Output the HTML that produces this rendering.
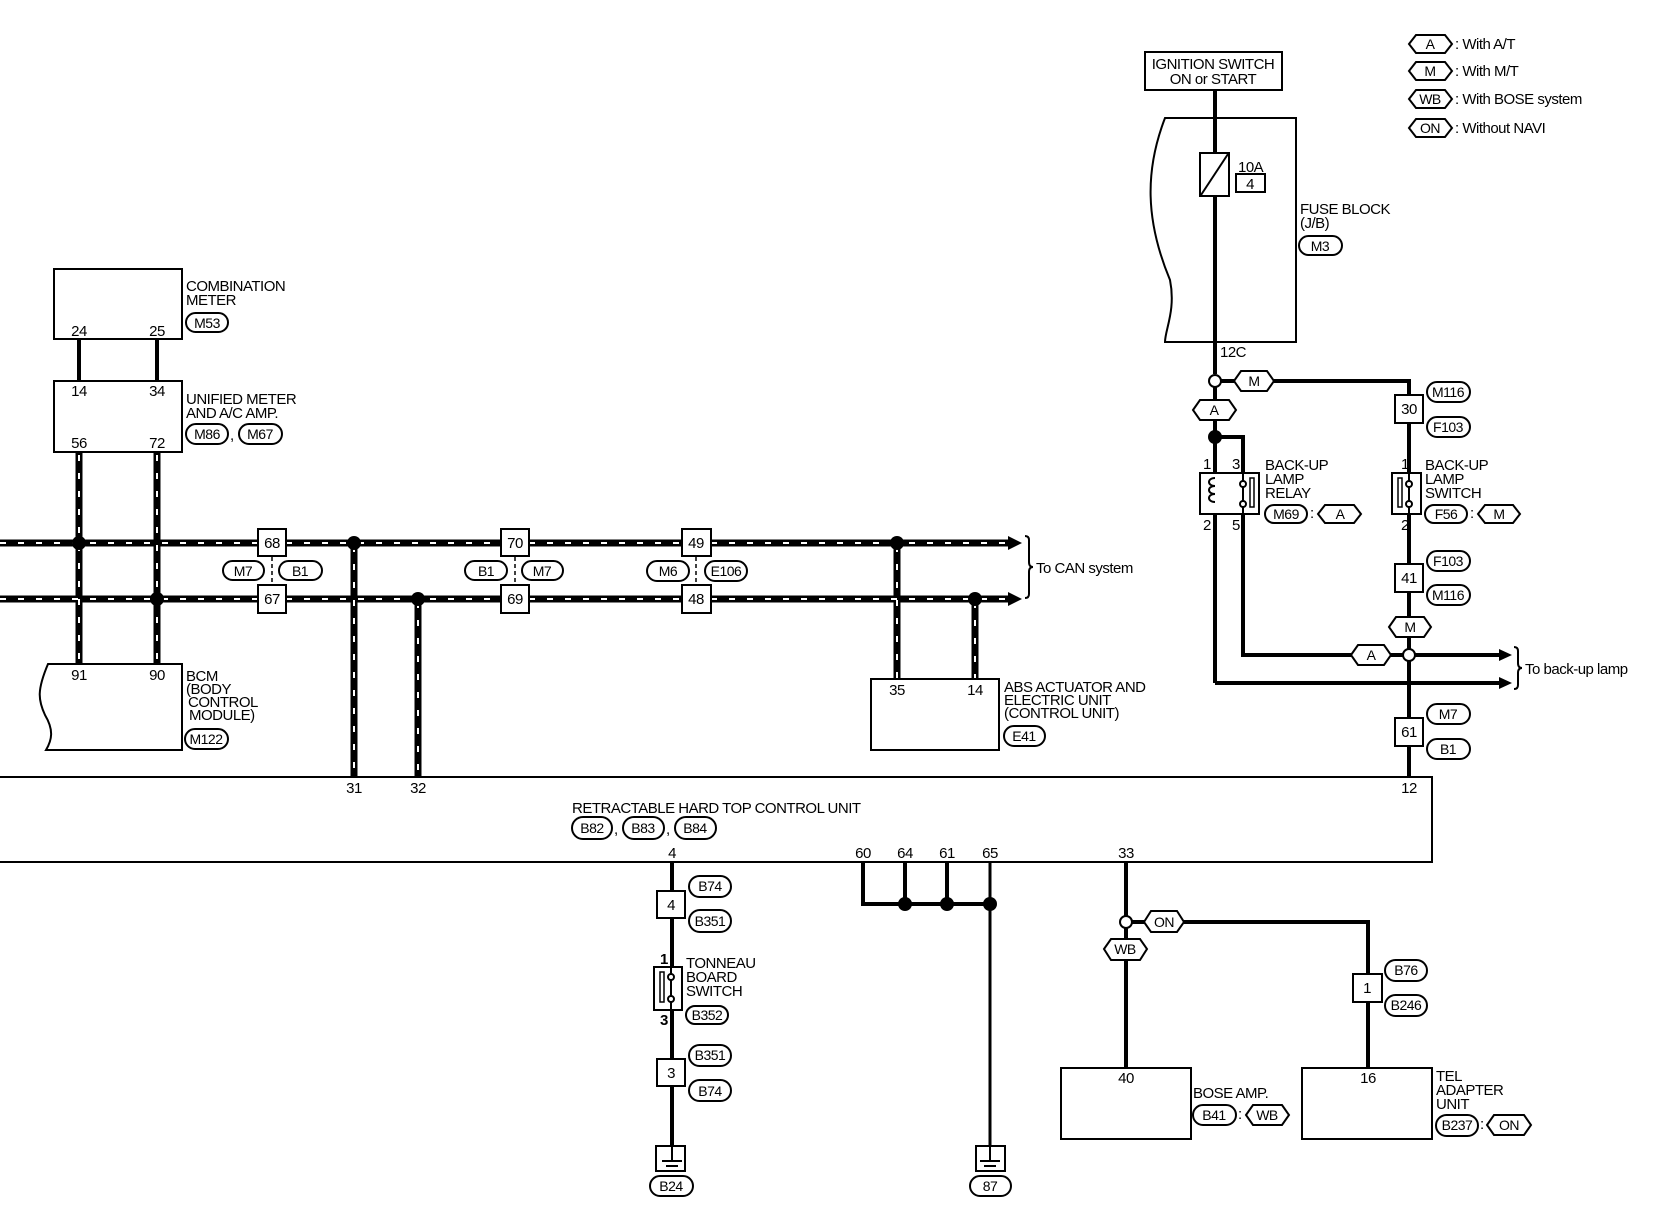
<!DOCTYPE html>
<html><head><meta charset="utf-8"><style>
html,body{margin:0;padding:0;background:#fff}
svg{display:block}
text{font-family:"Liberation Sans",sans-serif;font-size:15px;fill:#000;letter-spacing:-0.5px}
.s{font-size:14px}
.o{fill:#fff;stroke:#000;stroke-width:2}
.b{fill:#fff;stroke:#000;stroke-width:2}
.w{stroke:#000;stroke-width:4;fill:none}
.t{stroke:#000;stroke-width:2;fill:none}
.cb{stroke:#000;stroke-width:7;fill:none}
.cw{stroke:#fff;stroke-width:2;stroke-dasharray:6 12;fill:none}
</style></head><body>
<svg width="1660" height="1216" viewBox="0 0 1660 1216" xmlns="http://www.w3.org/2000/svg">
<!-- Legend -->
<g>
<polygon class="o" points="1409,44 1416,35 1445,35 1452,44 1445,53 1416,53"/><text class="s" x="1430" y="49" text-anchor="middle">A</text><text x="1455" y="49">: With A/T</text>
<polygon class="o" points="1409,71 1416,62 1445,62 1452,71 1445,80 1416,80"/><text class="s" x="1430" y="76" text-anchor="middle">M</text><text x="1455" y="76">: With M/T</text>
<polygon class="o" points="1409,99 1416,90 1445,90 1452,99 1445,108 1416,108"/><text class="s" x="1430" y="104" text-anchor="middle">WB</text><text x="1455" y="104">: With BOSE system</text>
<polygon class="o" points="1409,128 1416,119 1445,119 1452,128 1445,137 1416,137"/><text class="s" x="1430" y="133" text-anchor="middle">ON</text><text x="1455" y="133">: Without NAVI</text>
</g>

<!-- Ignition + fuse block -->
<rect class="b" x="1145" y="52" width="137" height="38"/>
<text x="1213" y="69" text-anchor="middle">IGNITION SWITCH</text>
<text x="1213" y="84" text-anchor="middle">ON or START</text>
<path class="t" d="M1296,118 L1165,118 C1145,170 1145,220 1170,280 C1176,310 1165,330 1165,342 L1296,342 Z"/>
<line class="w" x1="1215" y1="90" x2="1215" y2="374"/>
<rect class="b" x="1200" y="153" width="29" height="43"/>
<line class="t" x1="1201" y1="195" x2="1228" y2="154"/>
<text x="1238" y="172">10A</text>
<rect class="b" x="1236" y="174" width="29" height="18"/><text x="1250" y="189" text-anchor="middle">4</text>
<text x="1300" y="214">FUSE BLOCK</text>
<text x="1300" y="228">(J/B)</text>
<rect class="o" x="1299" y="236" width="43" height="19" rx="9.5"/><text class="s" x="1320" y="251" text-anchor="middle">M3</text>
<text x="1220" y="357">12C</text>
<circle class="o" cx="1215" cy="381" r="6"/>
<line class="w" x1="1221" y1="381" x2="1234" y2="381"/>
<polygon class="o" points="1234,381 1241,371 1267,371 1274,381 1267,391 1241,391"/><text class="s" x="1254" y="386" text-anchor="middle">M</text>
<polyline class="w" points="1274,381 1409,381 1409,395"/>
<!-- A branch -->
<line class="w" x1="1215" y1="387" x2="1215" y2="400"/>
<polygon class="o" points="1193,410 1200,400 1229,400 1236,410 1229,420 1200,420"/><text class="s" x="1214" y="415" text-anchor="middle">A</text>
<line class="w" x1="1215" y1="420" x2="1215" y2="683"/>
<circle cx="1215" cy="437" r="7" fill="#000"/>
<polyline class="w" points="1215,437 1243,437 1243,655 1351,655"/>
<!-- relay -->
<rect class="b" x="1200" y="473" width="59" height="41"/>
<text x="1203" y="469">1</text><text x="1232" y="469">3</text><text x="1203" y="530">2</text><text x="1232" y="530">5</text>
<path class="t" d="M1215,478 c-8,0 -8,8 0,8 c-8,0 -8,8 0,8 c-8,0 -8,8 0,8"/>
<line class="t" x1="1243" y1="473" x2="1243" y2="514"/>
<circle class="o" cx="1243" cy="484" r="3"/><circle class="o" cx="1243" cy="504" r="3"/>
<rect x="1250" y="478" width="4" height="29" fill="#fff" stroke="#000" stroke-width="1.5"/>
<text x="1265" y="470">BACK-UP</text><text x="1265" y="484">LAMP</text><text x="1265" y="498">RELAY</text>
<rect class="o" x="1265" y="505" width="42" height="18" rx="9"/><text class="s" x="1286" y="519" text-anchor="middle">M69</text>
<text x="1310" y="518">:</text>
<polygon class="o" points="1318,514 1325,505 1354,505 1361,514 1354,523 1325,523"/><text class="s" x="1340" y="519" text-anchor="middle">A</text>
<!-- back-up lamp outputs -->
<polygon class="o" points="1351,655 1358,645 1384,645 1391,655 1384,665 1358,665"/><text class="s" x="1371" y="660" text-anchor="middle">A</text>
<line class="w" x1="1391" y1="655" x2="1403" y2="655"/>
<line class="w" x1="1415" y1="655" x2="1501" y2="655"/>
<polygon points="1499,649 1512,655 1499,661" fill="#000"/>
<polyline class="w" points="1215,683 1501,683"/>
<polygon points="1499,677 1512,683 1499,689" fill="#000"/>
<path class="t" d="M1514,647 q4,0 4,4 v12 q0,5 4,5 q-4,0 -4,5 v12 q0,4 -4,4" stroke-width="1.5"/>
<text x="1525" y="674">To back-up lamp</text>
<!-- switch column -->
<line class="w" x1="1409" y1="381" x2="1409" y2="777"/>
<rect class="b" x="1395" y="395" width="28" height="28"/><text x="1409" y="414" text-anchor="middle">30</text>
<rect class="o" x="1427" y="382" width="43" height="20" rx="10"/><text class="s" x="1448" y="397" text-anchor="middle">M116</text>
<rect class="o" x="1427" y="417" width="43" height="20" rx="10"/><text class="s" x="1448" y="432" text-anchor="middle">F103</text>
<rect class="b" x="1392" y="473" width="29" height="41"/>
<line class="t" x1="1409" y1="473" x2="1409" y2="514"/>
<circle class="o" cx="1409" cy="484" r="3"/><circle class="o" cx="1409" cy="504" r="3"/>
<rect x="1398" y="478" width="4" height="29" fill="#fff" stroke="#000" stroke-width="1.5"/>
<text x="1401" y="469">1</text><text x="1401" y="530">2</text>
<text x="1425" y="470">BACK-UP</text><text x="1425" y="484">LAMP</text><text x="1425" y="498">SWITCH</text>
<rect class="o" x="1425" y="505" width="42" height="18" rx="9"/><text class="s" x="1446" y="519" text-anchor="middle">F56</text>
<text x="1470" y="518">:</text>
<polygon class="o" points="1478,514 1485,505 1513,505 1520,514 1513,523 1485,523"/><text class="s" x="1499" y="519" text-anchor="middle">M</text>
<rect class="b" x="1395" y="564" width="28" height="28"/><text x="1409" y="583" text-anchor="middle">41</text>
<rect class="o" x="1427" y="551" width="43" height="20" rx="10"/><text class="s" x="1448" y="566" text-anchor="middle">F103</text>
<rect class="o" x="1427" y="585" width="43" height="20" rx="10"/><text class="s" x="1448" y="600" text-anchor="middle">M116</text>
<polygon class="o" points="1389,627 1396,617 1424,617 1431,627 1424,637 1396,637"/><text class="s" x="1410" y="632" text-anchor="middle">M</text>
<circle class="o" cx="1409" cy="655" r="6"/>
<rect class="b" x="1395" y="718" width="28" height="28"/><text x="1409" y="737" text-anchor="middle">61</text>
<rect class="o" x="1427" y="704" width="43" height="20" rx="10"/><text class="s" x="1448" y="719" text-anchor="middle">M7</text>
<rect class="o" x="1427" y="739" width="43" height="20" rx="10"/><text class="s" x="1448" y="754" text-anchor="middle">B1</text>

<!-- Combination meter & unified -->
<rect class="b" x="54" y="269" width="128" height="70"/>
<text x="79" y="336" text-anchor="middle">24</text><text x="157" y="336" text-anchor="middle">25</text>
<text x="186" y="291">COMBINATION</text><text x="186" y="305">METER</text>
<rect class="o" x="186" y="313" width="42" height="19" rx="9.5"/><text class="s" x="207" y="328" text-anchor="middle">M53</text>
<line class="w" x1="79" y1="339" x2="79" y2="381"/><line class="w" x1="157" y1="339" x2="157" y2="381"/>
<rect class="b" x="54" y="381" width="128" height="71"/>
<text x="79" y="396" text-anchor="middle">14</text><text x="157" y="396" text-anchor="middle">34</text>
<text x="79" y="448" text-anchor="middle">56</text><text x="157" y="448" text-anchor="middle">72</text>
<text x="186" y="404">UNIFIED METER</text><text x="186" y="418">AND A/C AMP.</text>
<rect class="o" x="186" y="424" width="42" height="20" rx="10"/><text class="s" x="207" y="439" text-anchor="middle">M86</text>
<text x="230" y="440">,</text>
<rect class="o" x="239" y="424" width="43" height="20" rx="10"/><text class="s" x="260" y="439" text-anchor="middle">M67</text>

<!-- CAN wires -->
<g>
<path class="cb" d="M0,543 H1012 M0,599 H1012 M79,452 V664 M157,452 V664 M354,543 V777 M418,599 V777 M897,543 V679 M975,599 V679"/>
<path class="cw" d="M0,543 H258 M286,543 H501 M529,543 H682 M711,543 H1006 M0,599 H258 M286,599 H501 M529,599 H682 M711,599 H1006 M79,455 V664 M157,455 V664 M354,546 V777 M418,602 V777 M897,546 V679 M975,602 V679"/>
</g>
<polygon points="1008,536 1022,543 1008,550" fill="#000"/>
<polygon points="1008,592 1022,599 1008,606" fill="#000"/>
<circle cx="79" cy="543" r="7" fill="#000"/><circle cx="157" cy="599" r="7" fill="#000"/>
<circle cx="354" cy="543" r="7" fill="#000"/><circle cx="418" cy="599" r="7" fill="#000"/>
<circle cx="897" cy="543" r="7" fill="#000"/><circle cx="975" cy="599" r="7" fill="#000"/>
<path class="t" d="M1025,536 q4,0 4,4 v22 q0,5 4,5 q-4,0 -4,5 v22 q0,4 -4,4" stroke-width="1.5"/>
<text x="1036" y="573">To CAN system</text>
<!-- connectors on CAN -->
<rect class="b" x="258" y="529" width="28" height="27"/><text x="272" y="548" text-anchor="middle">68</text>
<rect class="b" x="258" y="585" width="28" height="28"/><text x="272" y="604" text-anchor="middle">67</text>
<line x1="272" y1="557" x2="272" y2="585" stroke="#000" stroke-width="1.5" stroke-dasharray="4 3"/>
<rect class="o" x="223" y="561" width="41" height="19" rx="9.5"/><text class="s" x="243" y="576" text-anchor="middle">M7</text>
<rect class="o" x="279" y="561" width="43" height="19" rx="9.5"/><text class="s" x="300" y="576" text-anchor="middle">B1</text>
<rect class="b" x="501" y="529" width="28" height="27"/><text x="515" y="548" text-anchor="middle">70</text>
<rect class="b" x="501" y="585" width="28" height="28"/><text x="515" y="604" text-anchor="middle">69</text>
<line x1="515" y1="557" x2="515" y2="585" stroke="#000" stroke-width="1.5" stroke-dasharray="4 3"/>
<rect class="o" x="465" y="561" width="42" height="19" rx="9.5"/><text class="s" x="486" y="576" text-anchor="middle">B1</text>
<rect class="o" x="522" y="561" width="41" height="19" rx="9.5"/><text class="s" x="542" y="576" text-anchor="middle">M7</text>
<rect class="b" x="682" y="529" width="29" height="27"/><text x="696" y="548" text-anchor="middle">49</text>
<rect class="b" x="682" y="585" width="29" height="28"/><text x="696" y="604" text-anchor="middle">48</text>
<line x1="696" y1="557" x2="696" y2="585" stroke="#000" stroke-width="1.5" stroke-dasharray="4 3"/>
<rect class="o" x="647" y="561" width="42" height="20" rx="10"/><text class="s" x="668" y="576" text-anchor="middle">M6</text>
<rect class="o" x="705" y="561" width="42" height="20" rx="10"/><text class="s" x="726" y="576" text-anchor="middle">E106</text>

<!-- BCM -->
<path class="t" d="M182,664 L48,664 C37,690 38,700 45,715 C54,730 52,740 46,750 L182,750 Z"/>
<text x="79" y="680" text-anchor="middle">91</text><text x="157" y="680" text-anchor="middle">90</text>
<text x="186" y="681">BCM</text><text x="186" y="694">(BODY</text><text x="188" y="707">CONTROL</text><text x="189" y="720">MODULE)</text>
<rect class="o" x="185" y="729" width="43" height="20" rx="10"/><text class="s" x="206" y="744" text-anchor="middle">M122</text>

<!-- ABS -->
<rect class="b" x="871" y="679" width="128" height="71"/>
<text x="897" y="695" text-anchor="middle">35</text><text x="975" y="695" text-anchor="middle">14</text>
<text x="1004" y="692">ABS ACTUATOR AND</text><text x="1004" y="705">ELECTRIC UNIT</text><text x="1004" y="718">(CONTROL UNIT)</text>
<rect class="o" x="1004" y="726" width="41" height="20" rx="10"/><text class="s" x="1024" y="741" text-anchor="middle">E41</text>

<!-- RHTCU -->
<polyline class="t" points="0,777 1432,777 1432,862 0,862"/>
<text x="354" y="793" text-anchor="middle">31</text><text x="418" y="793" text-anchor="middle">32</text><text x="1409" y="793" text-anchor="middle">12</text>
<text x="572" y="813">RETRACTABLE HARD TOP CONTROL UNIT</text>
<rect class="o" x="572" y="817" width="40" height="22" rx="11"/><text class="s" x="592" y="833" text-anchor="middle">B82</text>
<text x="614" y="834">,</text>
<rect class="o" x="623" y="817" width="41" height="22" rx="11"/><text class="s" x="643" y="833" text-anchor="middle">B83</text>
<text x="666" y="834">,</text>
<rect class="o" x="675" y="817" width="41" height="22" rx="11"/><text class="s" x="695" y="833" text-anchor="middle">B84</text>
<text x="672" y="858" text-anchor="middle">4</text>
<text x="863" y="858" text-anchor="middle">60</text><text x="905" y="858" text-anchor="middle">64</text><text x="947" y="858" text-anchor="middle">61</text><text x="990" y="858" text-anchor="middle">65</text>
<text x="1126" y="858" text-anchor="middle">33</text>

<!-- pin 4 chain -->
<line class="w" x1="672" y1="862" x2="672" y2="1148"/>
<rect class="b" x="657" y="891" width="28" height="27"/><text x="671" y="910" text-anchor="middle">4</text>
<rect class="o" x="689" y="876" width="42" height="21" rx="10.5"/><text class="s" x="710" y="891" text-anchor="middle">B74</text>
<rect class="o" x="689" y="910" width="42" height="22" rx="11"/><text class="s" x="710" y="926" text-anchor="middle">B351</text>
<rect class="b" x="654" y="967" width="28" height="43"/>
<line class="t" x1="671" y1="967" x2="671" y2="1010"/>
<circle class="o" cx="671" cy="977" r="3"/><circle class="o" cx="671" cy="999" r="3"/>
<rect x="660" y="972" width="4" height="30" fill="#fff" stroke="#000" stroke-width="1.5"/>
<text x="660" y="964" style="font-weight:bold">1</text><text x="660" y="1025" style="font-weight:bold">3</text>
<text x="686" y="968">TONNEAU</text><text x="686" y="982">BOARD</text><text x="686" y="996">SWITCH</text>
<rect class="o" x="686" y="1006" width="42" height="18" rx="9"/><text class="s" x="707" y="1020" text-anchor="middle">B352</text>
<rect class="b" x="657" y="1059" width="28" height="27"/><text x="671" y="1078" text-anchor="middle">3</text>
<rect class="o" x="689" y="1045" width="42" height="21" rx="10.5"/><text class="s" x="710" y="1060" text-anchor="middle">B351</text>
<rect class="o" x="689" y="1080" width="42" height="21" rx="10.5"/><text class="s" x="710" y="1096" text-anchor="middle">B74</text>
<rect class="b" x="656" y="1146" width="29" height="25"/>
<line class="t" x1="672" y1="1146" x2="672" y2="1160"/>
<line class="t" x1="662" y1="1161" x2="682" y2="1161"/><line class="t" x1="666" y1="1166" x2="678" y2="1166"/>
<rect class="o" x="650" y="1176" width="43" height="20" rx="10"/><text class="s" x="671" y="1191" text-anchor="middle">B24</text>

<!-- ground group -->
<polyline class="w" points="863,862 863,904 990,904"/>
<line class="w" x1="905" y1="862" x2="905" y2="904"/>
<line class="w" x1="947" y1="862" x2="947" y2="904"/>
<line x1="990" y1="862" x2="990" y2="1160" stroke="#000" stroke-width="3"/>
<circle cx="905" cy="904" r="7" fill="#000"/><circle cx="947" cy="904" r="7" fill="#000"/><circle cx="990" cy="904" r="7" fill="#000"/>
<rect class="b" x="976" y="1146" width="29" height="25"/>
<line class="t" x1="990" y1="1146" x2="990" y2="1160"/>
<line class="t" x1="980" y1="1161" x2="1000" y2="1161"/><line class="t" x1="984" y1="1166" x2="996" y2="1166"/>
<rect class="o" x="970" y="1176" width="41" height="20" rx="10"/><text class="s" x="990" y="1191" text-anchor="middle">87</text>

<!-- pin 33 -->
<line class="w" x1="1126" y1="862" x2="1126" y2="916"/>
<circle class="o" cx="1126" cy="922" r="6"/>
<line class="w" x1="1132" y1="922" x2="1144" y2="922"/>
<polygon class="o" points="1144,922 1151,911 1177,911 1184,922 1177,932 1151,932"/><text class="s" x="1164" y="927" text-anchor="middle">ON</text>
<polyline class="w" points="1184,922 1368,922 1368,1068"/>
<line class="w" x1="1126" y1="928" x2="1126" y2="939"/>
<polygon class="o" points="1104,949 1111,939 1140,939 1147,949 1140,960 1111,960"/><text class="s" x="1125" y="954" text-anchor="middle">WB</text>
<line class="w" x1="1126" y1="960" x2="1126" y2="1068"/>
<rect class="b" x="1353" y="974" width="29" height="28"/><text x="1367" y="993" text-anchor="middle">1</text>
<rect class="o" x="1385" y="960" width="42" height="21" rx="10.5"/><text class="s" x="1406" y="975" text-anchor="middle">B76</text>
<rect class="o" x="1385" y="995" width="42" height="21" rx="10.5"/><text class="s" x="1406" y="1010" text-anchor="middle">B246</text>
<rect class="b" x="1061" y="1068" width="130" height="71"/><text x="1126" y="1083" text-anchor="middle">40</text>
<text x="1193" y="1098">BOSE AMP.</text>
<rect class="o" x="1193" y="1105" width="43" height="20" rx="10"/><text class="s" x="1214" y="1120" text-anchor="middle">B41</text>
<text x="1238" y="1119">:</text>
<polygon class="o" points="1246,1115 1253,1105 1282,1105 1289,1115 1282,1125 1253,1125"/><text class="s" x="1267" y="1120" text-anchor="middle">WB</text>
<rect class="b" x="1302" y="1068" width="130" height="71"/><text x="1368" y="1083" text-anchor="middle">16</text>
<text x="1436" y="1081">TEL</text><text x="1436" y="1095">ADAPTER</text><text x="1436" y="1109">UNIT</text>
<rect class="o" x="1436" y="1115" width="42" height="21" rx="10.5"/><text class="s" x="1457" y="1130" text-anchor="middle">B237</text>
<text x="1480" y="1129">:</text>
<polygon class="o" points="1487,1125 1494,1115 1524,1115 1531,1125 1524,1135 1494,1135"/><text class="s" x="1509" y="1130" text-anchor="middle">ON</text>
</svg>
</body></html>
